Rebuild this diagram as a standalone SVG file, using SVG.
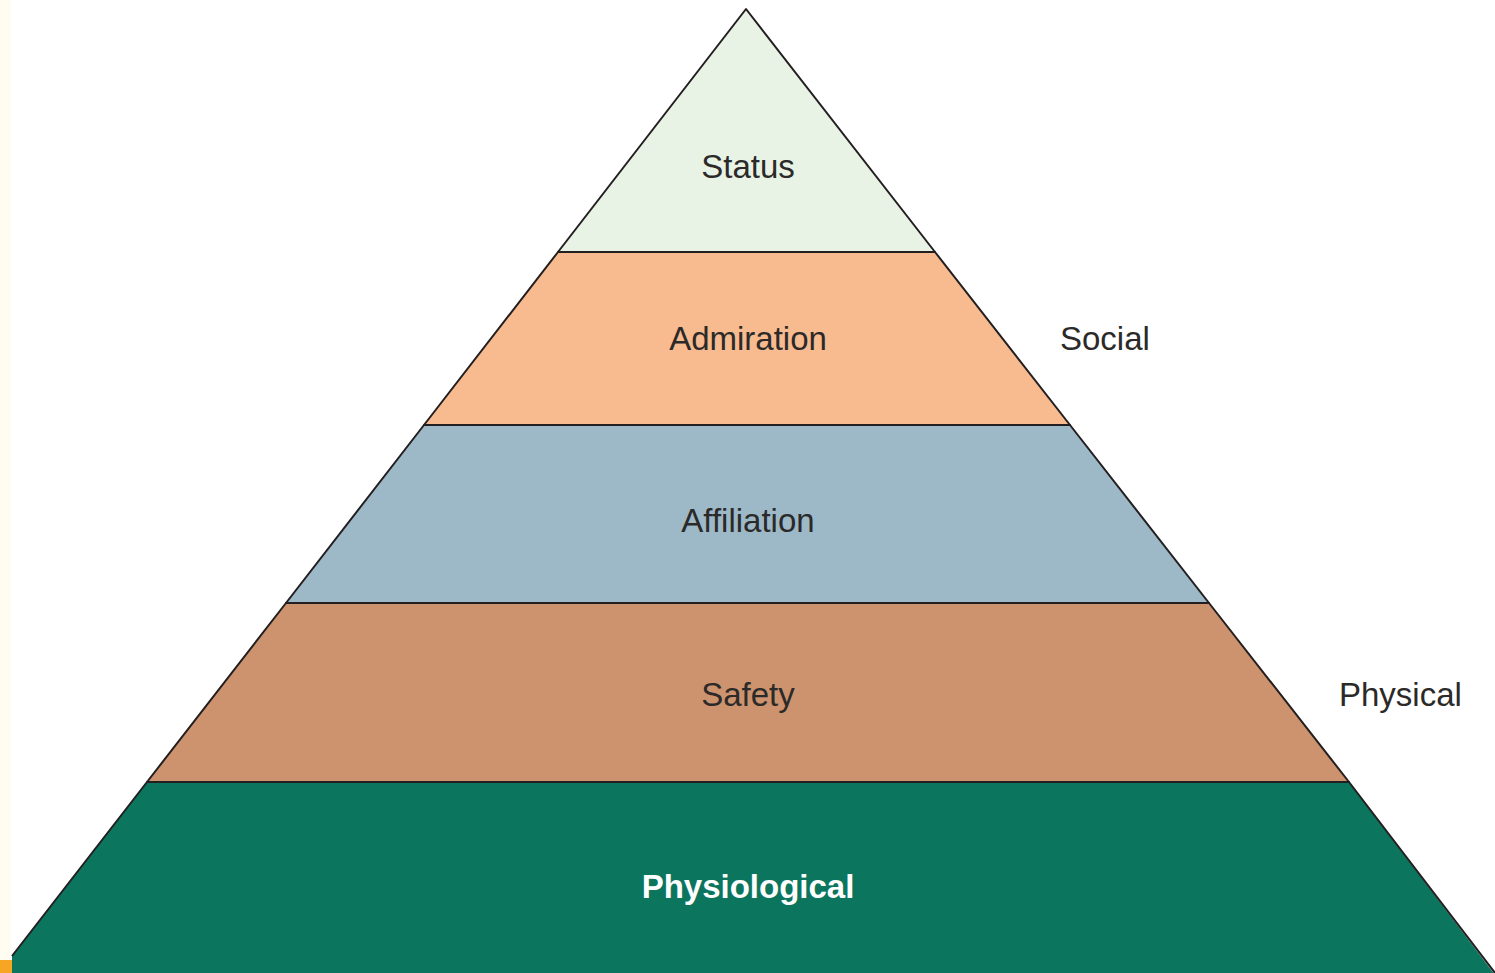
<svg xmlns="http://www.w3.org/2000/svg" width="1495" height="973" viewBox="0 0 1495 973">
<style>
.band{stroke:#231f20;stroke-width:2;stroke-linejoin:round}
.lbl{font-family:"Liberation Sans",Arial,sans-serif;font-size:33px;fill:#2b2a29;text-anchor:middle}
.side{font-family:"Liberation Sans",Arial,sans-serif;font-size:33px;fill:#2b2a29}
</style>
<rect width="1495" height="973" fill="#ffffff"/>
<rect x="0" y="0" width="11" height="960" fill="#fffdf2"/>
<rect x="0" y="960" width="12" height="13" fill="#f6a623"/>
<g id="physiological">
<polygon points="147,782 1349,782 1495,975 12,975 12,956" fill="#0b755e" stroke="none"/>
<polyline points="1495,973 1349,782 147,782 12,956" fill="none" stroke="#231f20" stroke-width="2" stroke-linejoin="round"/>
<text class="lbl" x="748" y="898" font-weight="bold" style="fill:#ffffff">Physiological</text>
</g>
<g id="safety">
<polygon class="band" points="286,603 1209,603 1349,782 147,782" fill="#cd936e"/>
<text class="lbl" x="748" y="706">Safety</text>
</g>
<g id="affiliation">
<polygon class="band" points="424,425 1070,425 1209,603 286,603" fill="#9db9c8"/>
<text class="lbl" x="748" y="532">Affiliation</text>
</g>
<g id="admiration">
<polygon class="band" points="558,252 935,252 1070,425 424,425" fill="#f8bb8f"/>
<text class="lbl" x="748" y="350">Admiration</text>
</g>
<g id="status">
<polygon class="band" points="746,9 935,252 558,252" fill="#e8f3e6"/>
<text class="lbl" x="748" y="178">Status</text>
</g>
<g id="social"><text class="side" x="1060" y="350">Social</text></g>
<g id="physical"><text class="side" x="1339" y="706">Physical</text></g>
</svg>
